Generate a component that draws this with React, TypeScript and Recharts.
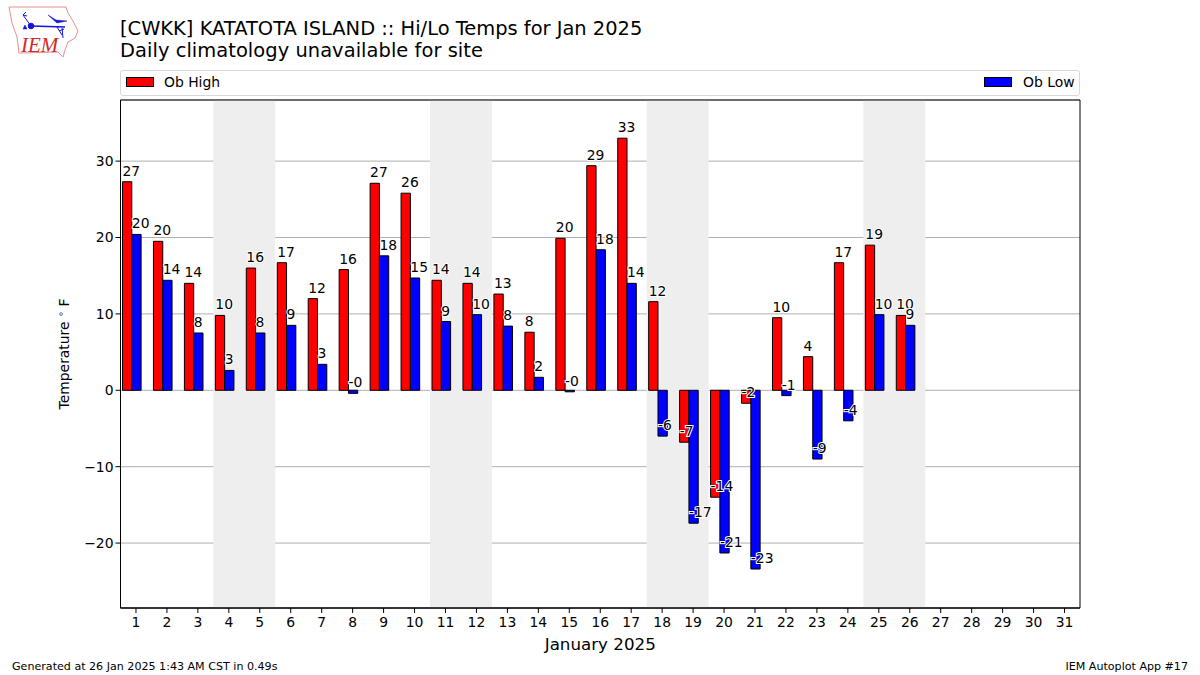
import React from "react";
import { BarChart, Bar, XAxis, YAxis, CartesianGrid, ReferenceArea, LabelList } from "recharts";

const days = Array.from({ length: 31 }, (_, i) => String(i + 1));
const obHigh = [27.3, 19.5, 14, 9.8, 16, 16.7, 12, 15.8, 27.1, 25.8, 14.4, 14, 12.6, 7.6, 19.9, 29.4, 33, 11.6, -6.8, -14, -1.7, 9.5, 4.4, 16.7, 19, 9.8];
const obLow = [20.4, 14.4, 7.5, 2.6, 7.5, 8.5, 3.4, -0.4, 17.6, 14.7, 9, 9.9, 8.4, 1.7, -0.2, 18.4, 14, -6, -17.4, -21.3, -23.4, -0.7, -9, -4, 9.9, 8.5];
const weekends: [string, string][] = [["4", "5"], ["11", "12"], ["18", "19"], ["25", "26"]];
const yTicks = [-20, -10, 0, 10, 20, 30];
const yDomain: [number, number] = [-28.5, 38];

const title1 = "[CWKK] KATATOTA ISLAND :: Hi/Lo Temps for Jan 2025";
const title2 = "Daily climatology unavailable for site";
const footerLeft = "Generated at 26 Jan 2025 1:43 AM CST in 0.49s";
const footerRight = "IEM Autoplot App #17";

const rows = days.map((d, i) => ({
  day: d,
  high: i < obHigh.length ? obHigh[i] : null,
  low: i < obLow.length ? obLow[i] : null,
  spacer: null,
}));

const FONT = "'DejaVu Sans', sans-serif";

const BarLabel = (props: any) => {
  const { x, y, height, value } = props;
  if (value === null || value === undefined) return null;
  const end = value >= 0 ? Math.min(y, y + height) : Math.max(y, y + height);
  return (
    <text
      x={x}
      y={end - 6}
      fontSize={13.9}
      fontFamily={FONT}
      fill="#000"
      stroke="#fff"
      strokeWidth={2}
      paintOrder="stroke"
      textAnchor="start"
    >
      {Number(value).toFixed(0)}
    </text>
  );
};

const YTitle = () => (
  <text transform="translate(69,354) rotate(-90)" textAnchor="middle" fontSize={13.9} fontFamily={FONT} fill="#000">
    <tspan>Temperature </tspan>
    <tspan dy={-5} fontSize={9.7}>{"\u2218"}</tspan>
    <tspan dy={5}> F</tspan>
  </text>
);

const Logo = () => (
  <svg width={80} height={60} style={{ position: "absolute", left: 0, top: 0 }}>
    <path
      d="M9 7 L66 7 L68 13 L73 21 L78 31 L75 38 L68 42 L65 50 L63 57 L58 52 L19 53 L17 37 L12 23 Z"
      fill="#fff"
      stroke="#e58f8f"
      strokeWidth={1}
    />
    <g stroke="#1414d8" fill="#1414d8">
      <path d="M31 26 L65 27" strokeWidth={1.6} />
      <path d="M31 26 L23 15 L26 12 M23 15 L27 16" strokeWidth={1} fill="none" />
      <circle cx={31} cy={26} r={2.8} />
      <path d="M48 15 L56 20 L67 21 L57 23 Z" strokeWidth={0.5} />
      <path d="M57 27 L62 35 M59 31 L64 29 M62 28 L63 38" strokeWidth={1} fill="none" />
      <path d="M23 29 L25 25 L27 29 Z" strokeWidth={0.5} />
    </g>
    <text x={21} y={52} fontFamily="'Liberation Serif', serif" fontStyle="italic" fontSize={21} fill="#d42a2a">
      IEM
    </text>
  </svg>
);

const LegendKey = ({ color, label, keyLeft, textLeft }: { color: string; label: string; keyLeft: number; textLeft: number }) => (
  <>
    <div style={{ position: "absolute", left: keyLeft, top: 6, width: 26, height: 8, background: color, border: "1px solid #000" }} />
    <div style={{ position: "absolute", left: textLeft, top: 3, fontSize: 13.9, lineHeight: "16px", color: "#000" }}>{label}</div>
  </>
);

export default function App() {
  return (
    <div style={{ position: "fixed", left: 0, top: 0, width: 1200, height: 675, background: "#fff", fontFamily: FONT, overflow: "hidden" }}>
      <Logo />
      <div style={{ position: "absolute", left: 120, top: 18, fontSize: 19.45, lineHeight: "22px", color: "#000", whiteSpace: "nowrap" }}>{title1}</div>
      <div style={{ position: "absolute", left: 120, top: 40, fontSize: 19.45, lineHeight: "22px", letterSpacing: 0.05, color: "#000", whiteSpace: "nowrap" }}>{title2}</div>
      <div style={{ position: "absolute", left: 120, top: 70, width: 958, height: 24, border: "1px solid #d8d8d8", borderRadius: 3 }}>
        <LegendKey color="#ff0000" label="Ob High" keyLeft={5} textLeft={43} />
        <LegendKey color="#0000ff" label="Ob Low" keyLeft={863} textLeft={902} />
      </div>
      <BarChart
        width={1200}
        height={675}
        data={rows}
        margin={{ top: 100, right: 120, bottom: 24, left: 60.5 }}
        barSize={9.3}
        barGap={0}
        style={{ position: "absolute", left: 0, top: 0 }}
      >
        <XAxis
          dataKey="day"
          interval={0}
          tickLine={{ stroke: "#000" }}
          tickSize={5}
          tickMargin={4}
          axisLine={{ stroke: "#000" }}
          tick={{ fill: "#000", fontSize: 13.9, fontFamily: FONT }}
          height={43}
          label={{ value: "January 2025", position: "insideBottom", offset: 1, fill: "#000", fontSize: 16.7, fontFamily: FONT }}
        />
        <YAxis
          width={60}
          domain={yDomain}
          ticks={yTicks}
          allowDataOverflow
          tickLine={{ stroke: "#000" }}
          tickSize={5}
          axisLine={{ stroke: "#000" }}
          tick={{ fill: "#000", fontSize: 13.9, fontFamily: FONT }}
          tickFormatter={(v: number) => String(v).replace("-", "\u2212")}
          label={<YTitle />}
        />
        {weekends.map(([a, b]) => (
          <ReferenceArea key={a} x1={a} x2={b} y1={yDomain[0]} y2={yDomain[1]} fill="#eeeeee" fillOpacity={1} stroke="none" />
        ))}
        <CartesianGrid vertical={false} stroke="#b0b0b0" strokeWidth={1} />
        <Bar dataKey="high" fill="#ff0000" stroke="#000" strokeWidth={1} isAnimationActive={false}>
          <LabelList dataKey="high" content={BarLabel} />
        </Bar>
        <Bar dataKey="low" fill="#0000ff" stroke="#000" strokeWidth={1} isAnimationActive={false}>
          <LabelList dataKey="low" content={BarLabel} />
        </Bar>
        <Bar dataKey="spacer" fill="none" isAnimationActive={false} />
        <ReferenceArea x1={days[0]} x2={days[30]} y1={yDomain[0]} y2={yDomain[1]} fill="none" stroke="#000" strokeWidth={1} />
      </BarChart>
      <div style={{ position: "absolute", left: 12, top: 660, fontSize: 11.1, lineHeight: "13px", color: "#000" }}>{footerLeft}</div>
      <div style={{ position: "absolute", right: 12, top: 660, fontSize: 11.1, lineHeight: "13px", color: "#000" }}>{footerRight}</div>
    </div>
  );
}
